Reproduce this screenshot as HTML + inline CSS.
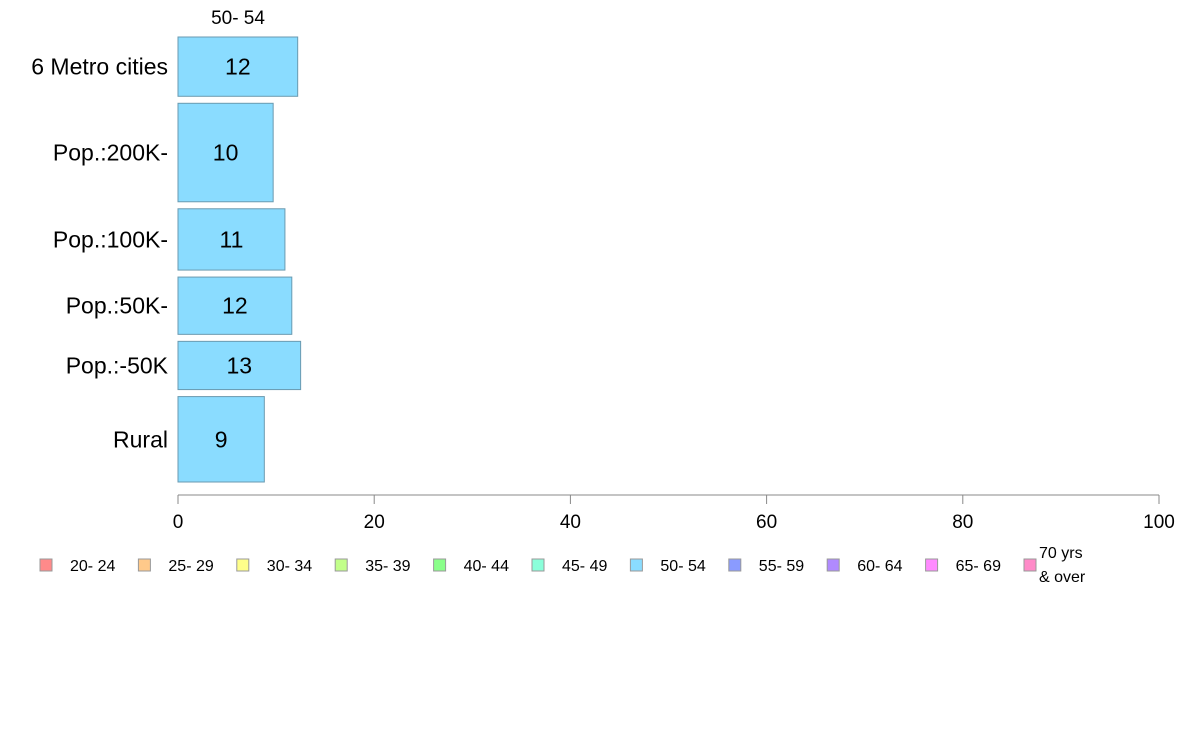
<!DOCTYPE html>
<html><head><meta charset="utf-8"><style>
body{margin:0;background:#fff;font-family:"Liberation Sans",sans-serif;}
svg text{font-family:"Liberation Sans",sans-serif;}
</style></head><body>
<svg id="chart" width="1188" height="736" viewBox="0 0 1188 736">
<text x="238" y="24" font-size="19" text-anchor="middle">50- 54</text>
<g id="bars"></g>
<g id="axis"></g>
<g id="legend"></g>
</svg>
<script>
const categories = ["6 Metro cities","Pop.:200K-","Pop.:100K-","Pop.:50K-","Pop.:-50K","Rural"];
const values = [12.2, 9.7, 10.9, 11.6, 12.5, 8.8];
const labels = ["12","10","11","12","13","9"];
const rowWeights = [59, 98, 61, 57, 48, 85];
const ticks = [0,20,40,60,80,100];
const legendLabels = ["20- 24","25- 29","30- 34","35- 39","40- 44","45- 49","50- 54","55- 59","60- 64","65- 69","70 yrs|& over"];
const legendColors = ["#ff8a8a","#ffc98a","#ffff8a","#c2ff8a","#8aff8a","#8affda","#8adcff","#8a9bff","#b08aff","#ff8aff","#ff8ac8"];

const NS="http://www.w3.org/2000/svg";
const x0=178,x1=1159,yTop=37,yBottom=482,gap=7;
const xs=v=>x0+(v/100)*(x1-x0);
function mk(t,a,p){const e=document.createElementNS(NS,t);for(const k in a)e.setAttribute(k,a[k]);p.appendChild(e);return e;}
const bars=document.getElementById('bars');
const totalW=rowWeights.reduce((a,b)=>a+b,0);
const avail=yBottom-yTop-gap*(categories.length-1);
let yy=yTop;
categories.forEach((c,i)=>{
  const h=rowWeights[i]/totalW*avail;
  const r=mk('rect',{x:x0,y:yy,width:xs(values[i])-x0,height:h,fill:'#8adcff',stroke:'#6a9ab0','stroke-width':1},bars);
  
  
  const t=mk('text',{x:(x0+xs(values[i]))/2,y:yy+h/2+8,'font-size':23,'text-anchor':'middle'},bars);
  t.textContent=labels[i];
  
  
  const cl=mk('text',{x:168,y:yy+h/2+8,'font-size':23,'text-anchor':'end'},bars);
  cl.textContent=c;
  
  
  yy+=h+gap;
});
const ax=document.getElementById('axis');
const al=mk('line',{x1:x0,x2:x1,y1:495,y2:495,stroke:'#888'},ax);


ticks.forEach(v=>{
  const tl=mk('line',{x1:xs(v),x2:xs(v),y1:495,y2:504,stroke:'#888'},ax);
  
  
  const tt=mk('text',{x:xs(v),y:528,'font-size':19,'text-anchor':'middle'},ax);
  tt.textContent=v;
  
  
});
const lg=document.getElementById('legend');
legendLabels.forEach((l,i)=>{
  const tx=70+i*98.4;
  const g=mk('g',{},lg);
  
  
  mk('rect',{x:tx-30,y:559,width:12,height:12,fill:legendColors[i],stroke:'#999'},g);
  const parts=l.split('|');
  if(parts.length===1){const t=mk('text',{x:tx,y:571,'font-size':16},g);t.textContent=parts[0];}
  else{const t=mk('text',{x:tx-15,y:558,'font-size':16},g);t.textContent=parts[0];
       const t2=mk('text',{x:tx-15,y:582,'font-size':16},g);t2.textContent=parts[1];}
});
</script>
</body></html>
